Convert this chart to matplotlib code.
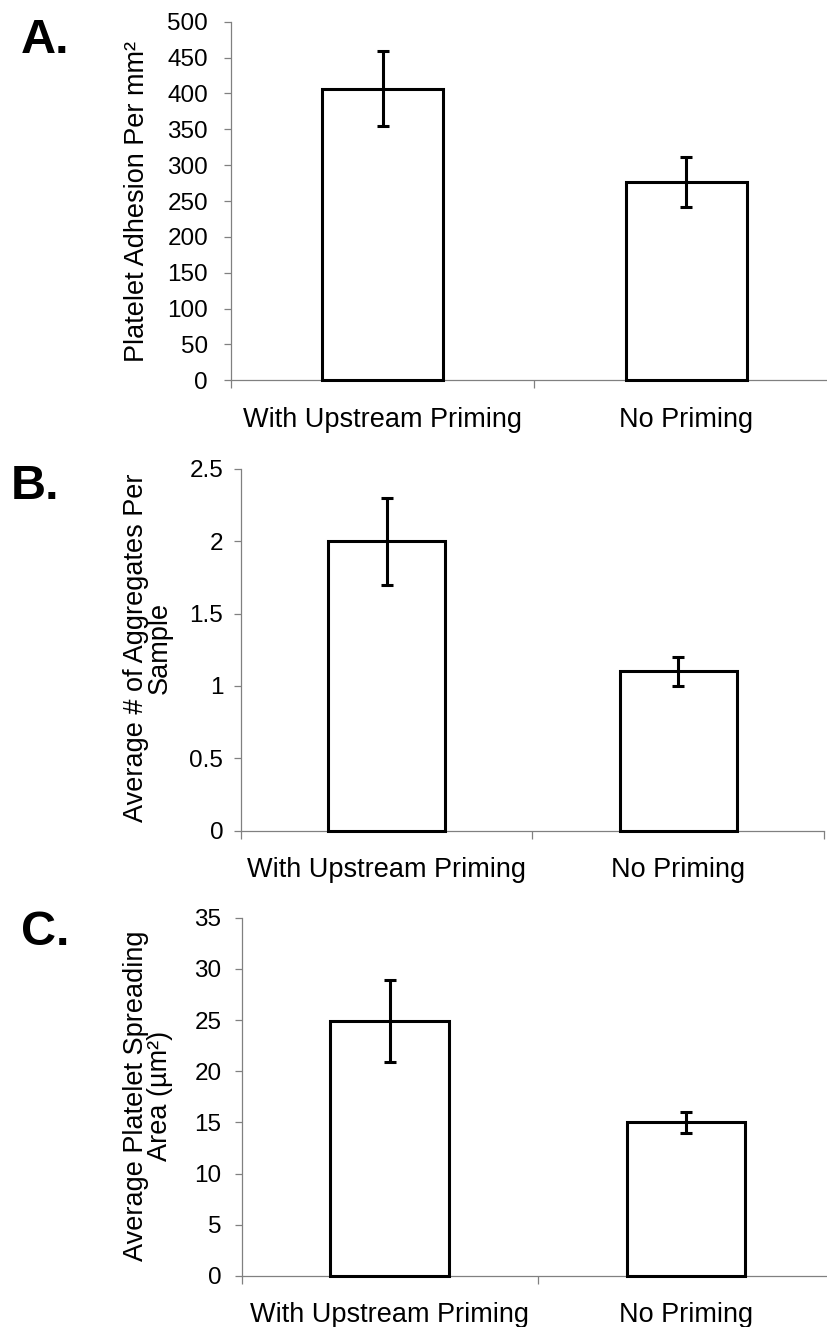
import matplotlib
matplotlib.use("Agg")
import matplotlib.pyplot as plt
from matplotlib.ticker import FixedLocator, NullFormatter, FixedFormatter

plt.rcParams['font.family'] = ['Liberation Sans', 'DejaVu Sans']

categories = ["With Upstream Priming", "No Priming"]

adhesion = [406.5, 277]
adhesion_err = [52, 35]
adhesion_ticks = [0, 50, 100, 150, 200, 250, 300, 350, 400, 450, 500]

aggregates = [2.0, 1.1]
aggregates_err = [0.3, 0.1]
aggregates_ticks = [0, 0.5, 1, 1.5, 2, 2.5]
aggregates_ticklabels = ["0", "0.5", "1", "1.5", "2", "2.5"]

spreading = [24.9, 15.0]
spreading_err = [4.0, 1.0]
spreading_ticks = [0, 5, 10, 15, 20, 25, 30, 35]

W, H = 828, 1327
fig = plt.figure(figsize=(W / 100, H / 100), dpi=100)

GRAY = '#808080'

def px_axes(left, right, top, bottom):
    return [left / W, 1 - bottom / H, (right - left) / W, (bottom - top) / H]

def make_panel(rect, vals, errs, yticks, ylim, ytlabels, ypad):
    ax = fig.add_axes(rect)
    x = [0.5 + i for i in range(len(vals))]
    ax.bar(x, vals, width=0.4, color='white', edgecolor='black', linewidth=2.2,
           yerr=errs, error_kw=dict(ecolor='black', elinewidth=2.2, capsize=4, capthick=2.2),
           zorder=3, clip_on=False)
    ax.set_xlim(0, len(vals))
    ax.set_ylim(*ylim)
    for s in ['top', 'right']:
        ax.spines[s].set_visible(False)
    for s in ['left', 'bottom']:
        ax.spines[s].set_color(GRAY)
        ax.spines[s].set_linewidth(0.9)
    ax.yaxis.set_major_locator(FixedLocator(yticks))
    if ytlabels is not None:
        ax.yaxis.set_major_formatter(FixedFormatter(ytlabels))
    ax.tick_params(axis='y', direction='out', length=5, width=0.9, color=GRAY,
                   labelsize=17.5, pad=ypad, labelcolor='black')
    ax.xaxis.set_major_locator(FixedLocator(list(range(len(vals) + 1))))
    ax.xaxis.set_major_formatter(NullFormatter())
    ax.xaxis.set_minor_locator(FixedLocator(x))
    ax.xaxis.set_minor_formatter(FixedFormatter(categories))
    ax.tick_params(axis='x', which='major', direction='out', length=6, width=0.9, color=GRAY)
    ax.tick_params(axis='x', which='minor', length=0, labelsize=19.5, pad=19)
    return ax

axA = make_panel(px_axes(231, 838, 21.7, 380.3), adhesion, adhesion_err,
                 adhesion_ticks, (0, 500), None, 11.5)
axB = make_panel(px_axes(240.7, 824.3, 468.7, 830.7), aggregates, aggregates_err,
                 aggregates_ticks, (0, 2.5), aggregates_ticklabels, 7.5)
axC = make_panel(px_axes(241.7, 833.7, 917.7, 1276), spreading, spreading_err,
                 spreading_ticks, (0, 35), None, 9.5)

def ftext(xp, yp, s, **kw):
    fig.text(xp / W, 1 - yp / H, s, **kw)

ftext(137, 201, "Platelet Adhesion Per mm\u00b2", rotation=90, ha='center', va='center', fontsize=19.5)
ftext(148, 648, "Average # of Aggregates Per\nSample", rotation=90, ha='center', va='center',
      fontsize=19.5, linespacing=0.9, multialignment='center')
ftext(148, 1096, "Average Platelet Spreading\nArea (\u00b5m\u00b2)", rotation=90, ha='center', va='center',
      fontsize=19.5, linespacing=0.9, multialignment='center')

ftext(21, 53, "A.", fontsize=35, fontweight='bold', va='baseline', ha='left')
ftext(11, 499, "B.", fontsize=35, fontweight='bold', va='baseline', ha='left')
ftext(21, 945, "C.", fontsize=35, fontweight='bold', va='baseline', ha='left')

fig.savefig("out.png", dpi=100)
